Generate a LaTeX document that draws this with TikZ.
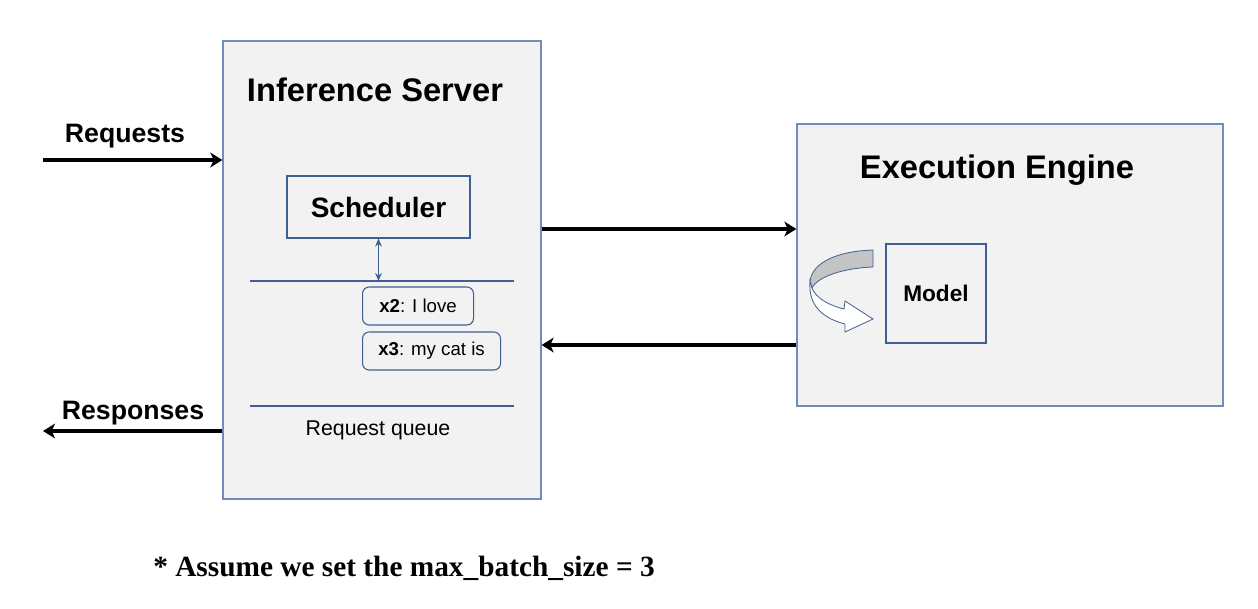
\documentclass[tikz,border=0pt]{standalone}
\usepackage{fontspec}
\setmainfont{Liberation Sans}
\newfontfamily\notefont{Liberation Serif}
\usepackage{tikz}
\usetikzlibrary{arrows,arrows.meta,calc}
\definecolor{boxfill}{HTML}{F2F2F2}
\definecolor{boxline}{HTML}{6F8DB8}
\definecolor{innerline}{HTML}{3F5F90}
\definecolor{ribbon}{HTML}{C4C4C4}

\tikzset{
  panel/.style={draw=boxline, fill=boxfill, line width=0.9pt, inner sep=0pt},
  innerbox/.style={draw=innerline, fill=boxfill, line width=0.8pt, inner sep=0pt},
  tokenbox/.style={innerbox, rounded corners=5pt, minimum height=28.5pt, anchor=west},
  bigarrow/.style={line width=3.3pt, -{Stealth[length=9pt,width=11pt,inset=2.5pt]}},
  title/.style={font=\bfseries\fontsize{24.5}{28}\selectfont},
}

\begin{document}
\begin{tikzpicture}[x=0.75pt, y=-0.75pt]
\useasboundingbox (0,0) rectangle (1258,608);
% the two main blocks
\node[panel, minimum width=238.5pt, minimum height=343.5pt] (server) at (382,270) {};
\node[panel, minimum width=319.5pt, minimum height=211.5pt] (engine) at (1010,265) {};
\node[title] (servertitle) at (375,90) {Inference Server};
\node[title] (enginetitle) at (997,170) {Execution Engine};

% scheduler and queue
\node[innerbox, minimum width=137.25pt, minimum height=46.5pt,
      font=\bfseries\fontsize{21}{24}\selectfont] (sched) at (378.5,207) {Scheduler};
\coordinate (qtopl) at (250,281);
\coordinate (qtopr) at (514,281);
\coordinate (qbotl) at (250,406);
\coordinate (qbotr) at (514,406);
\draw[innerline, line width=0.8pt] (qtopl) -- (qtopr);
\draw[innerline, line width=0.8pt] (qbotl) -- (qbotr);
\coordinate (qhead) at (sched.south |- qtopl);
\draw[innerline, line width=0.8pt, {Stealth[length=6pt,width=5pt]}-{Stealth[length=6pt,width=5pt]}]
  (sched.south) -- (qhead);
\node[tokenbox, minimum width=83.25pt, font=\fontsize{14}{16}\selectfont] (tokx2) at (362,306)
  {\textbf{x2}: I love};
\node[tokenbox, minimum width=103.5pt, font=\fontsize{14}{16}\selectfont] (tokx3) at (362,351)
  {\textbf{x3}: my cat is};
\node[font=\fontsize{16}{19}\selectfont] (queue) at (378,430) {Request queue};

% model with its loop
\node[innerbox, minimum width=75pt, minimum height=74.25pt,
      font=\bfseries\fontsize{17}{20}\selectfont] (model) at (936,293.5) {Model};
\draw[innerline, line width=0.6pt, fill=ribbon]
  (810,281) .. controls (813,261) and (840,251) .. (873,250) -- (873,267)
  .. controls (845,268) and (818,276) .. (812,288) -- cycle;
\draw[innerline, line width=0.6pt, fill=white]
  (812,288) .. controls (816,298) and (828,305) .. (844,309) -- (845,301) -- (873,319)
  -- (845,332) -- (845,324) .. controls (822,318) and (808,305) .. (810,281) -- cycle;

% in and out
\coordinate (reqin) at (43,160);
\coordinate (resout) at (43,431);
\draw[bigarrow] (reqin) -- (reqin -| server.west);
\draw[bigarrow] (resout -| server.west) -- (resout);
\node[font=\bfseries\fontsize{20}{24}\selectfont] (reqlabel) at (125,136) {Requests};
\node[font=\bfseries\fontsize{20}{24}\selectfont] (reslabel) at (133,413) {Responses};

% between server and engine
\coordinate (sendrow) at (541,229);
\coordinate (backrow) at (541,345);
\draw[bigarrow] (sendrow -| server.east) -- (sendrow -| engine.west);
\draw[bigarrow] (backrow -| engine.west) -- (backrow -| server.east);

\node[font=\notefont\bfseries\fontsize{22}{26}\selectfont] (note) at (404,568)
  {* Assume we set the max\_batch\_size = 3};
\end{tikzpicture}
\end{document}
